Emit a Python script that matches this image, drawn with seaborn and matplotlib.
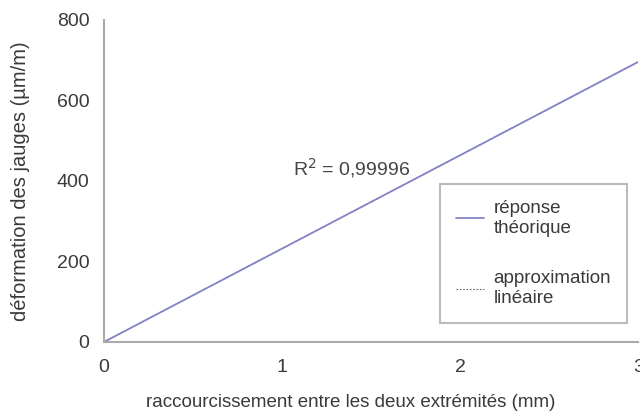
import matplotlib
matplotlib.use("Agg")
import matplotlib.pyplot as plt
import seaborn as sns
import pandas as pd

# data
x_mm = [0, 0.5, 1, 1.5, 2, 2.5, 3]
y_theo = [0, 116, 232, 348, 464, 580, 696]
y_fit = [0, 116, 232, 348, 464, 580, 696]
x_ticks = [0, 1, 2, 3]
y_ticks = [0, 200, 400, 600, 800]

sns.set_theme(style="white")
plt.rcParams['font.family'] = ['Liberation Sans', 'DejaVu Sans']

df = pd.DataFrame({"x": x_mm, "theo": y_theo, "fit": y_fit})

fig = plt.figure(figsize=(6.4, 4.15), dpi=100)
ax = fig.add_axes([0.1625, 0.176, 0.835, 0.776])

sns.lineplot(data=df, x="x", y="fit", ax=ax, color="#666666", lw=0.8,
             linestyle=(0, (1.5, 1.5)), label="approximation\nlinéaire")
sns.lineplot(data=df, x="x", y="theo", ax=ax, color="#8585c8", lw=1.3,
             label="réponse\nthéorique")

ax.set_xlim(0, 3)
ax.set_ylim(0, 800)
ax.set_xticks(x_ticks)
ax.set_yticks(y_ticks)
ax.set_xlabel("raccourcissement entre les deux extrémités (mm)", fontsize=13.5,
              color="#3a3a3a")
ax.xaxis.set_label_coords(0.4625, -0.163)
ax.set_ylabel("déformation des jauges (µm/m)", fontsize=14.5, color="#3a3a3a",
              labelpad=19)
ax.tick_params(axis="both", labelsize=14, colors="#3a3a3a", length=4.5,
               width=1, direction="out")
ax.tick_params(axis="y", pad=6)
ax.tick_params(axis="x", pad=8)
ax.tick_params(axis="both", color="#aaaaaa")
for s in ["top", "right"]:
    ax.spines[s].set_visible(False)
for s in ["left", "bottom"]:
    ax.spines[s].set_color("#aaaaaa")
    ax.spines[s].set_linewidth(1.5)

ax.text(1.06, 432, "R$^2$ = 0,99996", fontsize=14, color="#444444",
        ha="left", va="center")

handles, labels = ax.get_legend_handles_labels()
leg = ax.legend(handles[::-1], labels[::-1], loc="lower right",
                bbox_to_anchor=(0.979, 0.059), frameon=True,
                fontsize=13.5, fancybox=False, handlelength=1.5,
                labelspacing=1.8, borderpad=0.85, handletextpad=0.5,
                borderaxespad=0.0)
leg.get_frame().set_edgecolor("#aaaaaa")
leg.get_frame().set_linewidth(1.5)
for t in leg.get_texts():
    t.set_color("#3a3a3a")

fig.savefig("out.png", dpi=100)
